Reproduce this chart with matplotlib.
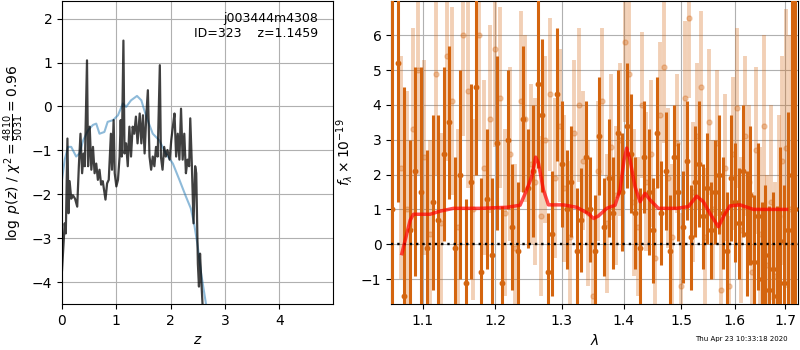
import matplotlib
matplotlib.use("Agg")
import matplotlib.pyplot as plt
from matplotlib.ticker import FixedLocator, FormatStrFormatter, NullLocator

# --- p(z) panel ---
z_chi = [0.0, 0.05, 0.07, 0.10, 0.12, 0.14, 0.17, 0.20, 0.24, 0.28, 0.31, 0.34, 0.37,
         0.40, 0.42, 0.46, 0.48, 0.51, 0.54, 0.57, 0.60, 0.63, 0.66, 0.69, 0.72, 0.75,
         0.80, 0.83, 0.86, 0.90, 0.92, 0.95, 0.97, 1.00, 1.03, 1.06, 1.08, 1.10, 1.13,
         1.15, 1.18, 1.21, 1.24, 1.27, 1.30, 1.33, 1.36, 1.39, 1.43, 1.46, 1.49, 1.52,
         1.55, 1.58, 1.61, 1.64, 1.67, 1.70, 1.73, 1.76, 1.80, 1.82, 1.85, 1.88, 1.91,
         1.94, 1.98, 2.01, 2.04, 2.07, 2.10, 2.13, 2.16, 2.19, 2.22, 2.25, 2.28, 2.31,
         2.34, 2.36, 2.39, 2.42, 2.45, 2.47, 2.50, 2.52, 2.54, 2.56, 2.59, 2.62]
logp_chi = [-3.73, -2.66, -2.89, -0.73, -2.43, -1.70, -2.10, -2.02, -2.10, -2.28, -1.36,
            -0.62, -1.52, -1.07, -1.36, 1.05, -1.36, -0.46, -1.44, -0.92, -1.52, -1.30,
            -1.67, -1.44, -1.78, -1.70, -2.12, -1.75, -1.67, -0.62, -1.44, -0.31, -1.52,
            -1.82, -1.67, -1.14, -0.31, -1.14, 1.50, -1.07, -0.84, -1.36, -0.46, -1.14,
            -0.46, -0.62, -0.23, -0.84, -0.16, -0.84, -0.20, -1.07, -0.23, 0.37, -1.14,
            -1.44, -1.14, -1.36, -0.92, -1.14, 0.94, -1.14, -1.44, -0.92, -1.14, -0.99,
            -1.21, -0.77, -0.46, -0.16, -1.14, -0.62, -1.21, -0.05, -1.21, -0.62, -1.52,
            -1.21, -1.36, -0.27, -1.36, -2.66, -1.36, -1.52, -3.58, -4.10, -3.35, -3.89,
            -4.60, -5.20]

z_prior = [0.0, 0.05, 0.11, 0.17, 0.26, 0.32, 0.39, 0.48, 0.57, 0.63, 0.69, 0.78, 0.84,
           0.94, 1.03, 1.12, 1.18, 1.27, 1.38, 1.46, 1.55, 1.67, 1.79, 1.91, 2.04, 2.16,
           2.28, 2.37, 2.43, 2.50, 2.56, 2.65, 2.72]
logp_prior = [-1.67, -1.21, -0.92, -0.92, -1.14, -1.07, -0.77, -0.54, -0.42, -0.39,
              -0.62, -0.58, -0.35, -0.31, -0.20, 0.07, -0.01, 0.14, 0.24, 0.14, -0.23,
              -0.62, -0.77, -1.07, -1.30, -1.67, -2.05, -2.32, -2.66, -3.20, -3.80,
              -4.50, -5.00]

# --- spectrum panel ---
wave_a = [1.060, 1.068, 1.075, 1.083, 1.090, 1.098, 1.105, 1.113, 1.120, 1.128, 1.135,
          1.143, 1.150, 1.158, 1.165, 1.173, 1.180, 1.188, 1.195, 1.203, 1.210, 1.218,
          1.225, 1.233, 1.240, 1.248, 1.255, 1.263, 1.270, 1.278, 1.285, 1.293, 1.300,
          1.308, 1.315, 1.323, 1.330, 1.338, 1.345, 1.353, 1.360, 1.368, 1.375, 1.383,
          1.390, 1.398, 1.405, 1.413, 1.420, 1.428, 1.435, 1.443, 1.450, 1.458, 1.465,
          1.473, 1.480, 1.488, 1.495, 1.503, 1.510, 1.518, 1.525, 1.533, 1.540, 1.548,
          1.555, 1.563, 1.570, 1.578, 1.585, 1.593, 1.600, 1.608, 1.615, 1.623, 1.630,
          1.638, 1.645, 1.653, 1.660, 1.668, 1.675, 1.683, 1.690, 1.698, 1.705, 1.713,
          1.720]
flux_a = [1.0, 5.2, -1.5, 0.4, 2.1, 1.5, -0.1, 1.2, 0.7, 2.6, 3.5, -0.1, 2.0, -1.1, 1.8,
          4.5, -0.8, 1.3, -0.3, 2.9, -1.1, 3.0, 0.5, -0.2, 3.6, 1.6, 2.1, 4.6, 3.7, -0.8,
          0.3, 4.3, 2.3, 1.0, 1.8, -0.2, 0.7, 2.5, 1.0, -0.2, 3.1, 0.5, 1.9, 0.9, 3.2, 1.5,
          3.4, 2.6, 0.9, -0.1, 2.5, 1.5, 0.4, 3.2, 0.9, 2.1, -0.2, 2.5, 1.5, 0.5, 2.4, 0.2,
          1.8, 2.3, 0.8, 1.6, 0.4, 1.5, 2.0, 0.9, -0.2, 1.9, 1.2, 0.6, 2.1, 0.3, 1.4, -0.5,
          0.8, -1.0, -0.3, -1.3, -0.7, -1.5, 0.1, -1.1, 0.4, 2.0, 1.0]
err_a = [9.0, 4.0, 6.0, 2.6, 3.0, 3.6, 2.8, 2.5, 3.0, 2.5, 2.2, 2.6, 3.0, 2.4, 2.8, 2.5,
         2.7, 2.0, 2.2, 2.5, 2.2, 2.0, 1.8, 2.0, 2.1, 1.7, 1.9, 2.4, 2.2, 1.7, 1.8, 1.9,
         1.8, 1.7, 1.6, 1.8, 1.5, 1.6, 1.5, 1.6, 1.7, 1.4, 1.7, 1.6, 1.8, 1.7, 1.8, 1.7,
         1.6, 1.7, 1.6, 1.8, 1.5, 1.6, 1.5, 1.7, 1.6, 1.5, 1.4, 1.6, 1.7, 1.5, 1.6, 1.8,
         1.5, 1.6, 1.4, 1.5, 1.7, 1.6, 1.7, 1.8, 1.7, 1.6, 1.9, 1.8, 2.0, 1.9, 2.1, 2.2,
         2.0, 2.4, 2.2, 2.6, 2.7, 2.8, 3.4, 8.0, 9.0]

wave_b = [1.072, 1.079, 1.087, 1.094, 1.102, 1.109, 1.117, 1.124, 1.132, 1.139, 1.147,
          1.154, 1.162, 1.169, 1.177, 1.184, 1.192, 1.199, 1.207, 1.214, 1.222, 1.229,
          1.237, 1.244, 1.252, 1.259, 1.267, 1.274, 1.282, 1.289, 1.297, 1.304, 1.312,
          1.319, 1.327, 1.334, 1.342, 1.349, 1.357, 1.364, 1.372, 1.379, 1.387, 1.394,
          1.402, 1.409, 1.417, 1.424, 1.432, 1.439, 1.447, 1.454, 1.462, 1.469, 1.477,
          1.484, 1.492, 1.499, 1.507, 1.514, 1.522, 1.529, 1.537, 1.544, 1.552, 1.559,
          1.567, 1.574, 1.582, 1.589, 1.597, 1.604, 1.612, 1.619, 1.627, 1.634, 1.642,
          1.649, 1.657, 1.664, 1.672, 1.679, 1.687, 1.694, 1.702, 1.709]
flux_b = [2.2, 1.0, 3.3, 5.0, 2.5, 0.3, 4.9, 0.6, 5.4, 4.1, 0.5, 6.0, 4.4, 1.0, 6.0, 2.2,
          3.6, 5.6, 4.2, 0.9, 2.6, -0.1, 4.1, 3.6, 2.3, 1.8, 0.8, 3.0, 4.3, 1.9, 3.4, 1.6,
          0.2, 3.2, 4.0, 2.4, 0.9, -1.5, 2.1, 4.1, 0.6, 2.8, 1.4, 3.0, 5.8, 4.9, 1.2, 0.5,
          4.0, 1.8, 2.6, -0.4, 3.7, 5.1, 1.9, 0.2, 2.9, -1.2, 4.2, 6.5, 1.5, 3.1, 4.5, 0.2,
          3.5, 1.0, 2.9, -1.3, 2.2, -1.2, 2.6, 3.9, 0.4, 3.1, 1.8, -0.8, 2.7, 0.3, 3.4,
          -0.6, 1.2, -0.9, 0.8, 2.4, 2.75, 1.0]
err_b = [3.2, 3.4, 2.9, 3.0, 2.8, 2.7, 2.9, 2.6, 3.0, 2.7, 2.8, 2.9, 2.8, 2.6, 3.0, 2.5,
         2.7, 2.8, 2.6, 2.4, 2.5, 2.4, 2.6, 2.4, 2.3, 2.4, 2.3, 2.4, 2.2, 2.3, 2.2, 2.1,
         2.2, 2.1, 2.2, 2.0, 2.1, 2.2, 2.0, 2.1, 2.0, 2.1, 2.0, 2.2, 2.3, 2.2, 2.1, 2.0,
         2.1, 2.0, 2.1, 2.0, 2.1, 2.2, 2.0, 2.1, 2.0, 2.1, 2.2, 2.3, 2.0, 2.1, 2.2, 2.0,
         2.1, 2.0, 2.1, 2.2, 2.1, 2.0, 2.2, 2.3, 2.1, 2.3, 2.2, 2.3, 2.4, 2.5, 2.6, 2.6,
         2.8, 2.7, 2.9, 3.0, 4.0, 5.0]

model_wave = [1.0726, 1.0834, 1.0877, 1.0965, 1.1097, 1.1231, 1.1412, 1.1784, 1.2166,
              1.2363, 1.2462, 1.2537, 1.2597, 1.2638, 1.2714, 1.2791, 1.3023, 1.3233,
              1.3420, 1.3501, 1.3582, 1.3719, 1.3857, 1.3940, 1.4007, 1.4052, 1.4108,
              1.4193, 1.4279, 1.4365, 1.4452, 1.4597, 1.4922, 1.5132, 1.5284, 1.5407,
              1.5531, 1.5687, 1.5813, 1.5908, 1.6100, 1.6360, 1.7027]
model_flux = [-0.27, 0.69, 0.86, 0.86, 0.86, 0.95, 1.03, 1.03, 1.06, 1.12, 1.56, 1.94,
              2.50, 2.33, 1.56, 1.13, 1.13, 1.06, 0.88, 0.74, 0.81, 1.03, 1.12, 1.56,
              2.42, 2.76, 2.42, 1.65, 1.22, 1.46, 1.27, 1.03, 1.03, 1.08, 1.38, 1.22,
              0.88, 0.50, 0.88, 1.10, 1.13, 1.00, 1.00]

wave_ticks = [1.1, 1.2, 1.3, 1.4, 1.5, 1.6, 1.7]

orange = "#d4650f"

fig = plt.figure(figsize=(8, 3.5), dpi=100)
ax1 = fig.add_axes([0.0775, 0.131, 0.339, 0.866])
ax2 = fig.add_axes([0.489, 0.131, 0.509, 0.866])

ax1.plot(z_prior, logp_prior, color="tab:blue", alpha=0.5, lw=1.5)
ax1.plot(z_chi, logp_chi, color="k", alpha=0.75, lw=1.6)
ax1.set_xlim(0, 4.99)
ax1.set_ylim(-4.5, 2.4)
ax1.set_xticks([0, 1, 2, 3, 4])
ax1.grid(True)
ax1.set_xlabel("$z$")
ax1.set_ylabel(r"$\log\ p(z)$ / $\chi^2=\frac{4810}{5031}=0.96$")
ax1.text(0.945, 0.965, "j003444m4308\nID=323    z=1.1459", transform=ax1.transAxes,
         ha="right", va="top", fontsize=9)

ax2.errorbar(wave_b, flux_b, yerr=err_b, color=orange, alpha=0.3, marker="o", ms=3.6,
             ls="none", elinewidth=2.8, zorder=2)
ax2.errorbar(wave_a, flux_a, yerr=err_a, color=orange, marker="o", ms=3.2,
             ls="none", elinewidth=2.2, zorder=3)
ax2.plot(model_wave, model_flux, color="red", alpha=0.7, lw=2.5, zorder=5)
ax2.axhline(0, color="k", ls=":", lw=1.7, zorder=4)
ax2.set_xscale("log")
ax2.set_xlim(1.059, 1.727)
ax2.set_ylim(-1.72, 6.98)
ax2.xaxis.set_major_locator(FixedLocator(wave_ticks))
ax2.xaxis.set_major_formatter(FormatStrFormatter("%.1f"))
ax2.xaxis.set_minor_locator(NullLocator())
ax2.grid(True)
ax2.set_xlabel(r"$\lambda$")
ax2.set_ylabel(r"$f_\lambda\times10^{-19}$")

fig.text(0.984, 0.031, "Thu Apr 23 10:33:18 2020", ha="right", va="center", fontsize=5)

fig.savefig("out.png")
